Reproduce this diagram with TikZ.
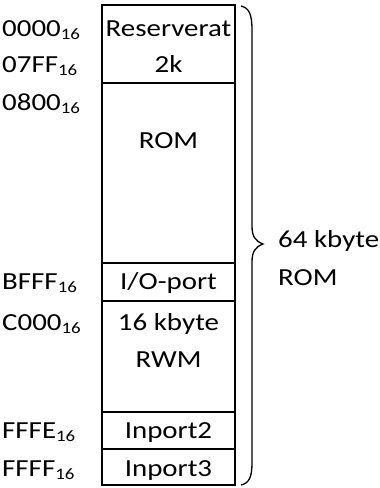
\documentclass[tikz,border=0pt]{standalone}
\usepackage{fontspec}
\setmainfont[FakeStretch=1.18]{Carlito}
\newcommand{\hexsub}[1]{\raisebox{-3pt}{\fontsize{16}{16}\selectfont #1}}
\begin{document}
\begin{tikzpicture}[x=1pt,y=-1pt,
  lbl/.style={inner sep=0pt,anchor=base west,font=\fontsize{24.5}{29}\selectfont},
  cell/.style={inner sep=0pt,anchor=base,font=\fontsize{24.5}{29}\selectfont},
  boxline/.style={line width=2.2pt},
  bracestyle/.style={line width=1.3pt}]
\useasboundingbox (0,0) rectangle (380,488);
% box outline and separators
\coordinate (tl) at (102,5);
\coordinate (br) at (235,485);
\draw[boxline] (tl) rectangle (br);
\foreach \yy in {83,263,301,412,449}{
  \draw[boxline] (102,\yy) -- (235,\yy);
}
% cell texts
\node[cell] (res) at (168.5,36) {Reserverat};
\node[cell] (twok) at (168.5,72) {2k};
\node[cell] (rom) at (168.5,148) {ROM};
\node[cell] (io) at (168.5,289) {I/O-port};
\node[cell] (rwm1) at (168.5,330) {16 kbyte};
\node[cell] (rwm2) at (168.5,367) {RWM};
\node[cell] (in2) at (168.5,438) {Inport2};
\node[cell] (in3) at (168.5,476) {Inport3};
% addresses
\node[lbl] (a0) at (2,36) {0000\hexsub{16}};
\node[lbl] (a1) at (2,72) {07FF\hexsub{16}};
\node[lbl] (a2) at (2,110) {0800\hexsub{16}};
\node[lbl] (a3) at (2,289) {BFFF\hexsub{16}};
\node[lbl] (a4) at (2,330) {C000\hexsub{16}};
\node[lbl] (a5) at (2,438) {FFFE\hexsub{16}};
\node[lbl] (a6) at (2,476) {FFFF\hexsub{16}};
% brace
\draw[bracestyle] (241,6) .. controls (249,8) and (252,14) .. (252,30)
  -- (252,226) .. controls (252,236) and (255,241) .. (263,244)
  .. controls (255,247) and (252,252) .. (252,262)
  -- (252,462) .. controls (252,478) and (249,483) .. (241,485);
\node[lbl] (tot1) at (278,247) {64 kbyte};
\node[lbl] (tot2) at (278,285) {ROM};
\end{tikzpicture}
\end{document}
